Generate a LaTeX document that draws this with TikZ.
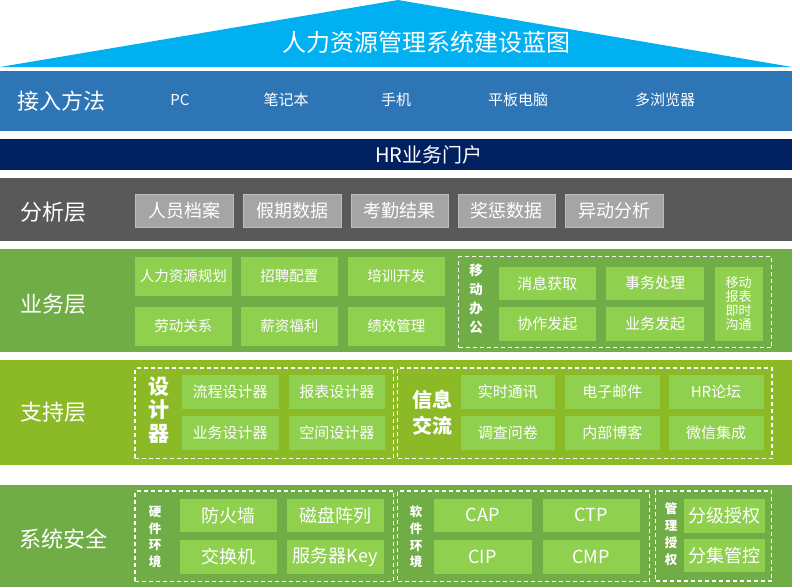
\documentclass[tikz,border=0pt]{standalone}
\usepackage{fontspec}
\setmainfont{Noto Sans CJK SC}
\definecolor{triblue}{HTML}{00B0F0}
\definecolor{accblue}{HTML}{2E75B6}
\definecolor{navy}{HTML}{002060}
\definecolor{darkgray}{HTML}{595959}
\definecolor{graybox}{HTML}{A5A5A5}
\definecolor{grayedge}{HTML}{BDBDBD}
\definecolor{midgreen}{HTML}{70AD47}
\definecolor{ygreen}{HTML}{8CBA27}
\definecolor{boxgreen}{HTML}{8FD04F}
\newcommand\mybox[7]{\node[#1, minimum width={(#5)-(#3)}, minimum height={(#6)-(#4)}] (#2) at ({((#3)+(#5))/2},{((#4)+(#6))/2}) {#7};}
\newcommand\fs[1]{\fontsize{#1}{#1}\selectfont}
\tikzset{
  base/.style={inner sep=0pt, outer sep=0pt, text=white, align=center},
  band/.style={base, draw=none},
  gbox/.style={base, fill=graybox, draw=grayedge, line width=0.8pt, font=\fs{18}},
  gnbox/.style={base, fill=boxgreen, font=\fs{14.5}},
  bigbox/.style={base, fill=boxgreen, font=\fs{18}},
  dbox/.style={base, draw=white, line width=1.2pt, dash pattern=on 4pt off 3pt},
  lbl/.style={base, anchor=west, font=\fs{22}},
  acc/.style={base, font=\fs{15}},
}
\begin{document}
\begin{tikzpicture}[x=1pt,y=-1pt]
\useasboundingbox (0,0) rectangle (800,587);
% roof
\fill[triblue] (0,67) -- (398,0) -- (792,67) -- cycle;
\node[base, font=\fs{24}] (title) at (426,42) {人力资源管理系统建设蓝图};
% bands
\mybox{band, fill=accblue}{accband}{0}{70.5}{792}{131}{}
\mybox{band, fill=navy}{portal}{0}{139}{792}{169.5}{}
\mybox{band, fill=darkgray}{anaband}{0}{178}{792}{241}{}
\mybox{band, fill=midgreen}{busband}{0}{249}{792}{352}{}
\mybox{band, fill=ygreen}{supband}{0}{360}{792}{465}{}
\mybox{band, fill=midgreen}{secband}{0}{484.5}{792}{587}{}
% access
\node[lbl] (l1) at (17,101) {接入方法};
\node[acc] (a1) at (180,100) {PC};
\node[acc] (a2) at (286,100) {笔记本};
\node[acc] (a3) at (396,100) {手机};
\node[acc] (a4) at (518,100) {平板电脑};
\node[acc] (a5) at (665,100) {多浏览器};
% portal
\node[base, font=\fs{20}] (portaltxt) at (429,155) {HR业务门户};
% analysis
\node[lbl] (l2) at (20,212) {分析层};
\mybox{gbox}{g1}{135}{194}{233}{227}{人员档案}
\mybox{gbox}{g2}{243}{194}{341}{227}{假期数据}
\mybox{gbox}{g3}{351}{194}{448}{227}{考勤结果}
\mybox{gbox}{g4}{458}{194}{555}{227}{奖惩数据}
\mybox{gbox}{g5}{565}{194}{663}{227}{异动分析}
% business
\node[lbl] (l3) at (20,304) {业务层};
\mybox{gnbox}{b1}{135}{256.5}{231.5}{295.5}{人力资源规划}
\mybox{gnbox}{b2}{241}{256.5}{337.5}{295.5}{招聘配置}
\mybox{gnbox}{b3}{347.5}{256.5}{445}{295.5}{培训开发}
\mybox{gnbox}{b4}{135}{306.5}{231.5}{345.5}{劳动关系}
\mybox{gnbox}{b5}{241}{306.5}{337.5}{345.5}{薪资福利}
\mybox{gnbox}{b6}{347.5}{306.5}{445}{345.5}{绩效管理}
\mybox{dbox}{mob}{458.5}{256.5}{771.5}{347.5}{}
\node[base, font={\bfseries\fontsize{13.5}{19}\selectfont}] (mobl) at (476,298.5) {移\\动\\办\\公};
\mybox{gnbox, font=\fs{15}}{m1}{498.5}{267}{596}{299.5}{消息获取}
\mybox{gnbox, font=\fs{15}}{m2}{606}{267}{704}{299.5}{事务处理}
\mybox{gnbox, font=\fs{15}}{m3}{498.5}{306.5}{596}{340.5}{协作发起}
\mybox{gnbox, font=\fs{15}}{m4}{606}{306.5}{704}{340.5}{业务发起}
\mybox{gnbox, font={\fontsize{13}{14}\selectfont}}{m5}{714.5}{267}{762.5}{340.5}{移动\\报表\\即时\\沟通}
% support
\node[lbl] (l4) at (20,412) {支持层};
\mybox{dbox}{sd1}{135}{368}{393.5}{458.5}{}
\node[base, font={\bfseries\fontsize{21}{23.5}\selectfont}] (sdl) at (158.5,410) {设\\计\\器};
\mybox{gnbox, font=\fs{15}}{s1}{181.5}{375}{278.5}{408.5}{流程设计器}
\mybox{gnbox, font=\fs{15}}{s2}{288.5}{375}{385}{408.5}{报表设计器}
\mybox{gnbox, font=\fs{15}}{s3}{181.5}{416}{278.5}{449.5}{业务设计器}
\mybox{gnbox, font=\fs{15}}{s4}{288.5}{416}{385}{449.5}{空间设计器}
\mybox{dbox}{sd2}{397.5}{368}{772}{458.5}{}
\node[base, font={\bfseries\fontsize{20}{26}\selectfont}] (sil) at (432.5,413) {信息\\交流};
\mybox{gnbox, font=\fs{15}}{i1}{461}{375}{554.5}{408.5}{实时通讯}
\mybox{gnbox, font=\fs{15}}{i2}{565}{375}{659.5}{408.5}{电子邮件}
\mybox{gnbox, font=\fs{15}}{i3}{668.5}{375}{763.5}{408.5}{HR论坛}
\mybox{gnbox, font=\fs{15}}{i4}{461}{416}{554.5}{449.5}{调查问卷}
\mybox{gnbox, font=\fs{15}}{i5}{565}{416}{659.5}{449.5}{内部博客}
\mybox{gnbox, font=\fs{15}}{i6}{668.5}{416}{763.5}{449.5}{微信集成}
% security
\node[lbl] (l5) at (19,539) {系统安全};
\mybox{dbox}{hd}{135}{491}{393.5}{581.5}{}
\node[base, font={\bfseries\fontsize{12.5}{16.7}\selectfont}] (hdl) at (155,537) {硬\\件\\环\\境};
\mybox{bigbox}{h1}{180}{498.5}{277}{532}{防火墙}
\mybox{bigbox}{h2}{286.5}{498.5}{383.5}{532}{磁盘阵列}
\mybox{bigbox}{h3}{180}{540}{277}{573.5}{交换机}
\mybox{bigbox}{h4}{286.5}{540}{383.5}{573.5}{服务器Key}
\mybox{dbox}{sw}{397.5}{491}{649.5}{581.5}{}
\node[base, font={\bfseries\fontsize{12.5}{16.7}\selectfont}] (swl) at (416,537) {软\\件\\环\\境};
\mybox{bigbox}{c1}{433.5}{498.5}{531.5}{532}{CAP}
\mybox{bigbox}{c2}{542.5}{498.5}{639.5}{532}{CTP}
\mybox{bigbox}{c3}{433.5}{540}{531.5}{573.5}{CIP}
\mybox{bigbox}{c4}{542.5}{540}{639.5}{573.5}{CMP}
\mybox{dbox}{mg}{655.5}{491}{771.5}{581}{}
\node[base, font={\bfseries\fontsize{12.5}{17}\selectfont}] (mgl) at (671,534) {管\\理\\授\\权};
\mybox{bigbox}{k1}{683.5}{498.5}{765}{533}{分级授权}
\mybox{bigbox}{k2}{683.5}{538.5}{765}{572}{分集管控}
\end{tikzpicture}
\end{document}
